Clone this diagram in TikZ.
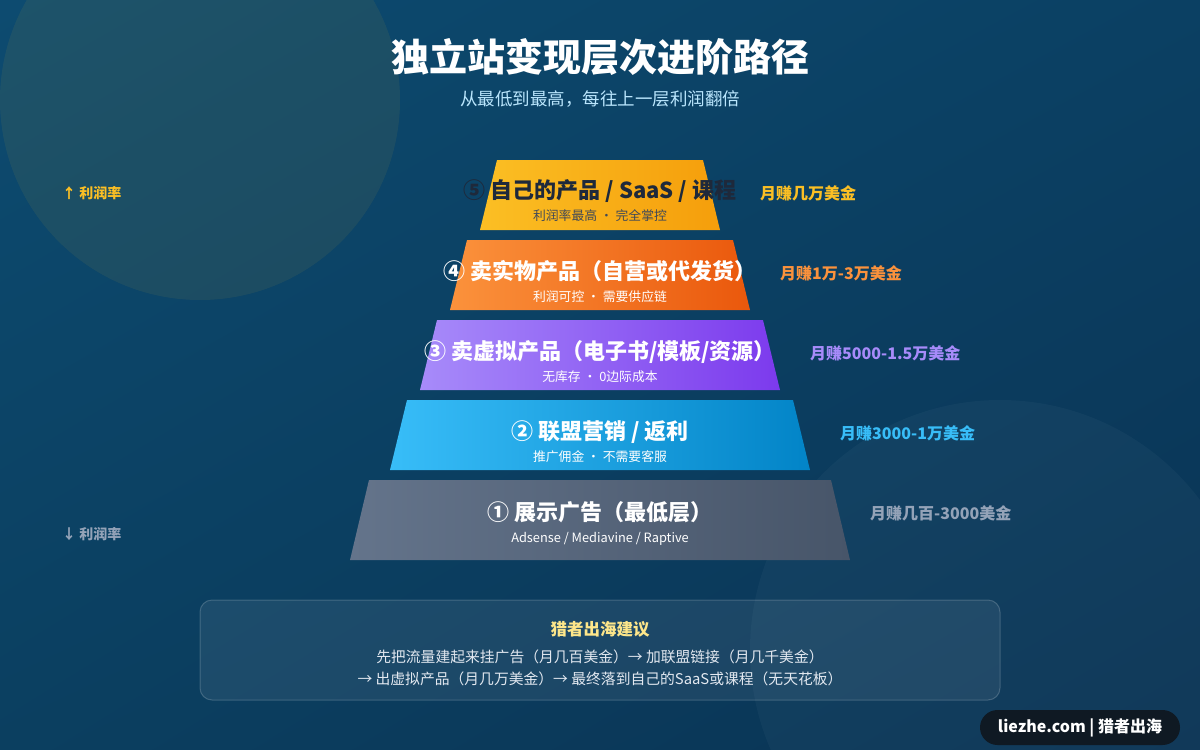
\documentclass[tikz,border=0pt]{standalone}
\usepackage{fontspec}
\setmainfont{Noto Sans CJK SC}
\usetikzlibrary{shadings,positioning}

\definecolor{amberA}{HTML}{FBBF24}
\definecolor{amberB}{HTML}{F59E0B}
\definecolor{orangeA}{HTML}{FB923C}
\definecolor{orangeB}{HTML}{EA580C}
\definecolor{violetA}{HTML}{A78BFA}
\definecolor{violetB}{HTML}{7C3AED}
\definecolor{skyA}{HTML}{38BDF8}
\definecolor{skyB}{HTML}{0284C7}
\definecolor{slateA}{HTML}{64748B}
\definecolor{slateB}{HTML}{475569}
\definecolor{slateL}{HTML}{94A3B8}
\definecolor{inkdark}{HTML}{1E293B}
\definecolor{paleblue}{HTML}{BAE6FD}
\definecolor{paleyellow}{HTML}{FDE68A}
\definecolor{paletext}{HTML}{E2E8F0}
\definecolor{bgUL}{HTML}{0D4B70}
\definecolor{bgUR}{HTML}{0B4063}
\definecolor{bgLL}{HTML}{0B3F60}
\definecolor{bgLR}{HTML}{0A3354}
\definecolor{pill}{HTML}{0F1923}

\begin{document}
\begin{tikzpicture}[
  x=1pt, y=-1pt,
  ttl/.style={font=\bfseries\fontsize{22}{26}\selectfont, text=white, inner sep=0pt},
  sub/.style={font=\fontsize{12.8}{15}\selectfont, text=white, inner sep=0pt},
  earn/.style={anchor=west, font=\bfseries\fontsize{16}{19}\selectfont, inner sep=0pt},
  side/.style={anchor=west, font=\bfseries\fontsize{14}{17}\selectfont, inner sep=0pt}
]
% background
\useasboundingbox (0,0) rectangle (1200,750);
\shade[upper left=bgUL, upper right=bgUR, lower left=bgLL, lower right=bgLR]
  (0,0) rectangle (1200,750);
\begin{scope}
  \clip (0,0) rectangle (1200,750);
  \fill[amberA, opacity=0.07] (200,100) circle (200);
  \fill[white, opacity=0.03] (1000,650) circle (250);
\end{scope}

% heading
\node[font=\bfseries\fontsize{38}{44}\selectfont, text=white] (title) at (600,57) {独立站变现层次进阶路径};
\node[font=\fontsize{17.5}{21}\selectfont, text=paleblue] (subtitle) at (600,99) {从最低到最高，每往上一层利润翻倍};

% pyramid
\shade[left color=amberA, right color=amberB] (497,160) -- (703,160) -- (720,230) -- (480,230) -- cycle;
\shade[left color=orangeA, right color=orangeB] (467,240) -- (733,240) -- (750,310) -- (450,310) -- cycle;
\shade[left color=violetA, right color=violetB] (437,320) -- (763,320) -- (780,390) -- (420,390) -- cycle;
\shade[left color=skyA, right color=skyB] (407,400) -- (793,400) -- (810,470) -- (390,470) -- cycle;
\shade[left color=slateA, right color=slateB] (369,480) -- (831,480) -- (850,560) -- (350,560) -- cycle;

\node[ttl, text=inkdark] (saastitle) at (600,191) {⑤ 自己的产品 / SaaS / 课程};
\node[sub, text=inkdark!85] (saassub) at (600,216) {利润率最高 · 完全掌控};
\node[ttl] (physicaltitle) at (600,271) {④ 卖实物产品（自营或代发货）};
\node[sub] (physicalsub) at (600,297) {利润可控 · 需要供应链};
\node[ttl] (digitaltitle) at (600,352) {③ 卖虚拟产品（电子书/模板/资源）};
\node[sub] (digitalsub) at (600,377) {无库存 · 0边际成本};
\node[ttl] (affiliatetitle) at (600,432) {② 联盟营销 / 返利};
\node[sub] (affiliatesub) at (600,457) {推广佣金 · 不需要客服};
\node[ttl] (adstitle) at (600,512) {① 展示广告（最低层）};
\node[sub] (adssub) at (600,539) {Adsense / Mediavine / Raptive};

% earnings
\node[earn, text=amberA] (saasearn) at (760,193) {月赚几万美金};
\node[earn, text=orangeA] (physicalearn) at (780,273) {月赚1万-3万美金};
\node[earn, text=violetA] (digitalearn) at (810,353) {月赚5000-1.5万美金};
\node[earn, text=skyA] (affiliateearn) at (840,433) {月赚3000-1万美金};
\node[earn, text=slateL] (adsearn) at (870,513) {月赚几百-3000美金};

% profit axis
\node[side, text=amberA] (up) at (62,193) {↑ 利润率};
\node[side, text=slateL] (down) at (62,534) {↓ 利润率};

% advice box
\node[draw=white, draw opacity=0.18, fill=white, fill opacity=0.07, text opacity=1, rounded corners=12,
  minimum width=800, minimum height=100, line width=1pt] (advice) at (600,650) {};
\node[font=\bfseries\fontsize{16.5}{20}\selectfont, text=paleyellow] (advicetitle) at (600,629) {猎者出海建议};
\node[font=\fontsize{14.8}{22}\selectfont, text=paletext, align=center] (advicetext) at (600,668)
  {先把流量建起来挂广告（月几百美金）→ 加联盟链接（月几千美金）\\
   → 出虚拟产品（月几万美金）→ 最终落到自己的SaaS或课程（无天花板）};

% footer
\node[fill=pill, rounded corners=17.5, minimum width=200, minimum height=35,
  text=white, font=\bfseries\fontsize{16}{19}\selectfont] (brand) at (1080,727.5) {liezhe.com | 猎者出海};
\end{tikzpicture}
\end{document}
